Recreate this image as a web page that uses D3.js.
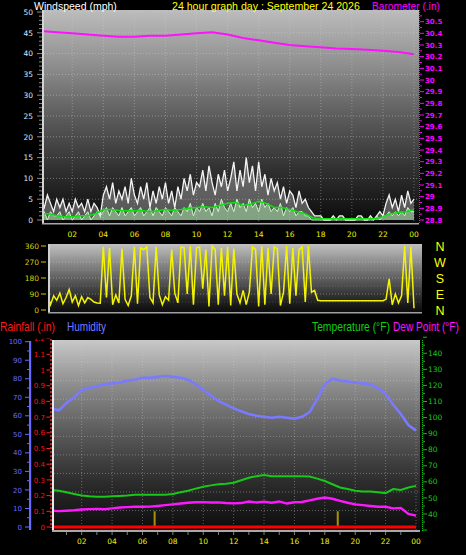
<!DOCTYPE html>
<html><head><meta charset="utf-8">
<script src="https://cdn.jsdelivr.net/npm/d3@7"></script>
<style>html,body{margin:0;padding:0;background:#000;overflow:hidden}svg{display:block}</style>
</head><body><svg id="c" width="466" height="555"></svg>
<script>
// ---------------- DATA ----------------
const hourTickValues = [2,4,6,8,10,12,14,16,18,20,22,24];
const hourTickLabels = ["02","04","06","08","10","12","14","16","18","20","22","00"];
const windTicks = [0,5,10,15,20,25,30,35,40,45,50];
const baroTicks = [28.8,28.9,29.0,29.1,29.2,29.3,29.4,29.5,29.6,29.7,29.8,29.9,30.0,30.1,30.2,30.3,30.4,30.5];
const dirTicks = [0,90,180,270,360];
const compassLabels = ["N","W","S","E","N"];
const compassAngles = [360,270,180,90,0];
const humTicks = [0,10,20,30,40,50,60,70,80,90,100];
const rainTicks = [0,0.1,0.2,0.3,0.4,0.5,0.6,0.7,0.8,0.9,1.0,1.1,1.2];
const tempTicks = [40,50,60,70,80,90,100,110,120,130,140];

// 12-minute samples (0.2 h), hours 0..24
const fineStep = 0.2;
const gustSpeed = [5,3,6,4,2,5,
 3,5,2,4,2, 5,3,4,2,5, 2,4,3,1,6, 8,5,9,4,7, 5,8,4,10,6,
 4,8,5,9,3, 7,4,8,5,9, 4,7,3,8,5, 10,7,11,6,9, 8,12,7,13,9,
 6,11,8,12,7, 10,14,7,12,8, 15,9,13,7,14, 8,11,6,10,7, 9,5,8,4,7,
 6,3,7,4,5, 3,2,1,1,1, 0,0,0,1,0, 1,1,0,0,0, 0,1,1,0,0,
 1,0,1,2,1, 4,6,3,5,2, 6,3,7,4,5];
const windAvg = [1,2,0,2,1,1,
 2,0,1,2,0, 1,2,0,1,2, 0,1,2,1,2, 3,1,3,2,1, 3,1,2,3,1,
 2,3,1,2,3, 1,3,2,1,3, 2,1,3,2,1, 3,2,4,1,3, 2,4,2,3,1,
 4,2,5,3,2, 4,2,5,3,4, 2,5,3,4,2, 5,3,4,2,3, 2,4,1,3,2,
 3,1,2,2,1, 1,0,0,0,0, 0,0,0,0,0, 0,0,0,0,0, 0,0,0,0,0,
 0,0,1,0,1, 1,2,1,2,1, 2,1,3,2,2];
const windDir = [120,40,90,30,80,55,
 95,35,70,115,45, 80,25,75,40,70, 60,45,40,38,355, 70,350,30,85,40, 345,60,25,80,355,
 35,350,340,355,70, 40,355,85,30,75, 55,340,95,40,355, 350,90,360,30,350, 355,120,340,20,360,
 340,30,350,80,355, 25,345,90,40,110, 30,100,355,340,20, 360,30,350,90,355, 345,25,100,360,35,
 350,80,340,355,45, 360,100,110,55,52, 52,52,52,52,52, 52,52,52,52,52, 52,52,52,52,52,
 52,52,52,52,52, 60,175,30,90,40, 80,360,40,355,10];

// half-hour samples
const halfStep = 0.5;
const windTrend = [1.5,1.5,1,0.8,0.8,1,1,1.5,2.5,2.5,2.3,2.2,2.2,2.3,2,2.2,2.5,2.3,2.5,2.8,3,3.2,3,3.5,4,4.2,3.5,3.8,4.5,4,3,3,2.5,2,1.5,0.5,0.3,0.3,0.3,0.3,0.3,0.3,0.3,0.3,0.8,1.5,1.8,2,2.5];
const humidity = [64,63,67,70,74,75,76,77,77.5,78,79,79.5,80.5,80.5,81,81.5,81,80.5,79.5,77,74,71,68,66,64,62.5,61,60,59.5,59,59.5,59,58.5,59.5,62,69,77,80,79,78.5,78,77.5,77,75,72,66,61,55,52];
const temperature = [55,54.5,53.5,52.5,51.5,51,50.8,50.8,51,51.2,51.5,52,52,52,52,52,52.5,53.5,54.5,55.8,57,57.8,58.5,58.8,59.5,61,62.5,63.5,64.2,63.5,63.5,63.5,63.5,63.5,63.3,62,60.5,58.5,56.5,55.5,54.5,54,54,53.5,53,55.5,55,56.5,57.5];
const dewPoint = [42,41.8,42,42.3,42.8,43,43.2,43,43.5,44,44.3,44.5,44.5,44.6,45,45.5,46,46.5,47,47.3,47.4,47.2,47.2,46.8,46.6,46.8,47.8,47.2,47.6,47,47.8,46.5,47.3,47.5,48.5,49.5,50.3,49.5,48.2,47,46,45.5,45,44.5,44.5,43.5,43.8,40,39];
const rainfall = [0,0,0,0,0,0,0,0,0,0,0,0,0,0,0,0,0,0,0,0,0,0,0,0,0];
// hourly barometer
const baroStep = 1;
const barometer = [30.42,30.41,30.40,30.39,30.38,30.37,30.37,30.38,30.38,30.39,30.40,30.41,30.39,30.36,30.34,30.32,30.30,30.29,30.28,30.27,30.265,30.26,30.25,30.24,30.22];
// rain events (hour, inches)
const rainEventHours = [6.8, 18.85];
const rainEventValues = [0.1, 0.1];

// ---------------- DRAW ----------------
const svg = d3.select("#c");
const defs = svg.append("defs");
function grad(id, stops){
  const g = defs.append("linearGradient").attr("id",id).attr("x1",0).attr("y1",0).attr("x2",0).attr("y2",1);
  stops.forEach(s=>g.append("stop").attr("offset",s[0]).attr("stop-color",s[1]));
}
grad("gTop",[[0,"#bcbcbc"],[0.25,"#909090"],[0.5,"#5c5c5c"],[0.75,"#303030"],[1,"#0a0a0a"]]);
grad("gMid",[[0,"#c0c0c0"],[0.5,"#606060"],[0.85,"#202020"],[1,"#0c0c0c"]]);
grad("gBot",[[0,"#c8c8c8"],[0.25,"#8a8a8a"],[0.5,"#585858"],[0.75,"#2c2c2c"],[1,"#0c0c0c"]]);
function clip(id,x,y,w,h){defs.append("clipPath").attr("id",id).append("rect").attr("x",x).attr("y",y).attr("width",w).attr("height",h);}

const fineHours = windDir.map((d,i)=>i*fineStep);
const halfHours = humidity.map((d,i)=>i*halfStep);

const font = "'Liberation Sans', Arial, sans-serif";
const tickFont = "'DejaVu Sans', Verdana, sans-serif";
function txt(g,x,y,s,color,size,anchor,ff){
  return g.append("text").attr("x",x).attr("y",y).text(s).attr("fill",color)
    .attr("font-size",size).attr("font-family",ff||font).attr("text-anchor",anchor||"start");
}
// condensed title: natural text squeezed horizontally to a target width
function ctxt(g,x,y,s,color,size,width){
  const t = g.append("text").attr("x",0).attr("y",0).text(s).attr("fill",color)
    .attr("font-size",size).attr("font-family",font);
  const w = t.node().getComputedTextLength();
  t.attr("transform",`translate(${x},${y}) scale(${width/w},1)`);
  return t;
}

// ===== TOP PANEL =====
const T = {x0:44, x1:419, y0:10, y1:223};
const xTop = d3.scaleLinear().domain([0,24]).range([41.2,414]);
const windY = d3.scaleLinear().domain([0,50]).range([220,12]);
const baroY = d3.scaleLinear().domain([28.8,30.6]).range([220,10]);
clip("cTop",T.x0,T.y0,T.x1-T.x0,T.y1-T.y0);
const topG = svg.append("g");
topG.append("rect").attr("x",T.x0).attr("y",T.y0).attr("width",T.x1-T.x0).attr("height",T.y1-T.y0).attr("fill","url(#gTop)");
const tg = topG.append("g").attr("clip-path","url(#cTop)");
windTicks.filter(v=>v>0).forEach(v=>tg.append("line").attr("x1",T.x0).attr("x2",T.x1).attr("y1",windY(v)).attr("y2",windY(v))
  .attr("stroke","#d0d0d0").attr("stroke-opacity",0.45).attr("stroke-dasharray","1,2"));
hourTickValues.forEach(v=>tg.append("line").attr("x1",xTop(v)).attr("x2",xTop(v)).attr("y1",T.y0).attr("y2",T.y1)
  .attr("stroke","#d0d0d0").attr("stroke-opacity",0.4).attr("stroke-dasharray","1,2"));
// gust
tg.append("path").datum(gustSpeed).attr("d",d3.area().x((d,i)=>xTop(fineHours[i])).y0(windY(0)).y1(d=>windY(d)))
  .attr("fill","#c0c0c0").attr("fill-opacity",0.4);
tg.append("path").datum(gustSpeed).attr("d",d3.line().x((d,i)=>xTop(fineHours[i])).y(d=>windY(d)))
  .attr("fill","none").attr("stroke","#f4f4f4").attr("stroke-width",1.3);
// average wind
tg.append("path").datum(windAvg).attr("d",d3.area().x((d,i)=>xTop(fineHours[i])).y0(windY(0)).y1(d=>windY(d)))
  .attr("fill","#b8ffb8").attr("fill-opacity",0.45);
tg.append("path").datum(windAvg).attr("d",d3.line().x((d,i)=>xTop(fineHours[i])).y(d=>windY(d)))
  .attr("fill","none").attr("stroke","#c8f8c8").attr("stroke-width",1);
tg.append("path").datum(windTrend).attr("d",d3.line().x((d,i)=>xTop(halfHours[i])).y(d=>windY(d)))
  .attr("fill","none").attr("stroke","#10e010").attr("stroke-width",1.5);
// barometer
tg.append("path").datum(barometer).attr("d",d3.line().x((d,i)=>xTop(i*baroStep)).y(d=>baroY(d)))
  .attr("fill","none").attr("stroke","#ff10ff").attr("stroke-width",2);
// borders
topG.append("rect").attr("x",42).attr("y",T.y0).attr("width",2).attr("height",T.y1-T.y0+1).attr("fill","#d4d4d4");
topG.append("rect").attr("x",42).attr("y",T.y1).attr("width",T.x1-42).attr("height",1.5).attr("fill","#a8a8a8");
// left axis
d3.range(0,51,1).forEach(v=>topG.append("line").attr("x1",v%5===0?37:39).attr("x2",42).attr("y1",windY(v)).attr("y2",windY(v))
  .attr("stroke","#8a8a8a").attr("stroke-width",1));
windTicks.forEach(v=>txt(topG,33,windY(v)+2.7,String(v),"#d8e8ff",7.5,"end",tickFont));
// right axis
topG.append("line").attr("x1",419.5).attr("x2",419.5).attr("y1",T.y0).attr("y2",T.y1+1).attr("stroke","#ff00ff").attr("stroke-dasharray","1,1");
baroTicks.forEach(v=>{
  topG.append("line").attr("x1",420).attr("x2",424).attr("y1",baroY(v)).attr("y2",baroY(v)).attr("stroke","#ff00ff");
  topG.append("line").attr("x1",420).attr("x2",422).attr("y1",baroY(v+0.05)).attr("y2",baroY(v+0.05)).attr("stroke","#ff00ff");
  txt(topG,425,baroY(v)+2.6,String(+v.toFixed(1)),"#ff00ff",7,"start",tickFont).attr("font-weight","bold");
});
// x labels
hourTickValues.forEach((v,i)=>txt(topG,xTop(v),237,hourTickLabels[i],"#f0f000",7.5,"middle",tickFont));
// header
ctxt(svg,34,9.5,"Windspeed (mph)","#ffffff",11.5,83);
ctxt(svg,172,9.5,"24 hour graph day : September 24 2026","#ffff00",11.5,188);
ctxt(svg,372,9.5,"Barometer (.in)","#ff00ff",11.5,68);

// ===== MIDDLE PANEL =====
const M = {x0:50, x1:422, y0:244, y1:312};
const dirY = d3.scaleLinear().domain([0,360]).range([310,246]);
clip("cMid",M.x0,M.y0,M.x1-M.x0,M.y1-M.y0);
const midG = svg.append("g");
midG.append("rect").attr("x",M.x0).attr("y",M.y0).attr("width",M.x1-M.x0).attr("height",M.y1-M.y0).attr("fill","url(#gMid)");
const mg = midG.append("g").attr("clip-path","url(#cMid)");
[45,90,135,180,225,270,315].forEach(v=>mg.append("line").attr("x1",M.x0).attr("x2",M.x1).attr("y1",dirY(v)).attr("y2",dirY(v))
  .attr("stroke","#d0d0d0").attr("stroke-opacity",v%90===0?0.45:0.2).attr("stroke-dasharray","1,2"));
mg.append("path").datum(windDir).attr("d",d3.line().x((d,i)=>xTop(fineHours[i])).y(d=>dirY(d)))
  .attr("fill","none").attr("stroke","#f4f400").attr("stroke-width",1.5);
midG.append("rect").attr("x",48).attr("y",M.y0).attr("width",2).attr("height",M.y1-M.y0+1).attr("fill","#d0d0d0");
midG.append("rect").attr("x",48).attr("y",M.y1).attr("width",M.x1-48).attr("height",1.5).attr("fill","#a0a0a0");
dirTicks.forEach(v=>{
  midG.append("line").attr("x1",41).attr("x2",46).attr("y1",dirY(v)).attr("y2",dirY(v)).attr("stroke","#c8c800");
  txt(midG,39,dirY(v)+2.7,String(v),"#d0d000",7.5,"end",tickFont);
});
compassLabels.forEach((s,i)=>txt(midG,440,dirY(compassAngles[i])+4.5,s,"#ffff00",12.5,"middle"));

// ===== BOTTOM PANEL =====
const B = {x0:54, x1:420, y0:340, y1:530};
const xBot = d3.scaleLinear().domain([0,24]).range([51.3,416]);
const humY = d3.scaleLinear().domain([0,100]).range([527,341.7]);
const rainY = d3.scaleLinear().domain([0,1.2]).range([527,338.6]);
const tempY = d3.scaleLinear().domain([30,150]).range([530.07,337.2]);
clip("cBot",B.x0,B.y0,B.x1-B.x0,B.y1-B.y0);
clip("cLbl",0,338.5,466,220);
const botG = svg.append("g");
botG.append("rect").attr("x",B.x0).attr("y",B.y0).attr("width",B.x1-B.x0).attr("height",B.y1-B.y0).attr("fill","url(#gBot)");
const bg = botG.append("g").attr("clip-path","url(#cBot)");
humTicks.filter(v=>v>0).forEach(v=>bg.append("line").attr("x1",B.x0).attr("x2",B.x1).attr("y1",humY(v)+2).attr("y2",humY(v)+2)
  .attr("stroke","#d0d0d0").attr("stroke-opacity",0.4).attr("stroke-dasharray","1,2"));
hourTickValues.forEach(v=>bg.append("line").attr("x1",xBot(v)).attr("x2",xBot(v)).attr("y1",B.y0).attr("y2",B.y1)
  .attr("stroke","#d0d0d0").attr("stroke-opacity",0.4).attr("stroke-dasharray","1,2"));
// rain events
rainEventHours.forEach((h,i)=>bg.append("line").attr("x1",xBot(h)).attr("x2",xBot(h)).attr("y1",rainY(0)).attr("y2",rainY(rainEventValues[i]))
  .attr("stroke","#a89400").attr("stroke-width",2));
// series
bg.append("path").datum(humidity).attr("d",d3.line().x((d,i)=>xBot(halfHours[i])).y(d=>humY(d)))
  .attr("fill","none").attr("stroke","#7a7aff").attr("stroke-width",2.6);
bg.append("path").datum(temperature).attr("d",d3.line().x((d,i)=>xBot(halfHours[i])).y(d=>tempY(d)))
  .attr("fill","none").attr("stroke","#18c818").attr("stroke-width",2);
bg.append("path").datum(dewPoint).attr("d",d3.line().x((d,i)=>xBot(halfHours[i])).y(d=>tempY(d)))
  .attr("fill","none").attr("stroke","#ff18ff").attr("stroke-width",2.4);
bg.append("path").datum(rainfall).attr("d",d3.line().x((d,i)=>xBot(i)).y(d=>rainY(d)))
  .attr("fill","none").attr("stroke","#ff0000").attr("stroke-width",3);
// borders
botG.append("rect").attr("x",52).attr("y",B.y0).attr("width",2).attr("height",B.y1-B.y0+2).attr("fill","#e8e8e8");
botG.append("rect").attr("x",52).attr("y",B.y1).attr("width",B.x1-52).attr("height",2).attr("fill","#a8a8a8");
d3.range(1,24,1).forEach(h=>botG.append("line").attr("x1",xBot(h)).attr("x2",xBot(h)).attr("y1",532).attr("y2",535).attr("stroke","#808080"));
// humidity axis
botG.append("rect").attr("x",29).attr("y",341).attr("width",2.2).attr("height",189).attr("fill","#6a6aff");
d3.range(0,101,5).forEach(v=>botG.append("line").attr("x1",v%10===0?25:27).attr("x2",29).attr("y1",humY(v)).attr("y2",humY(v)).attr("stroke","#6a6aff"));
const lbl = botG.append("g").attr("clip-path","url(#cLbl)");
humTicks.forEach(v=>txt(lbl,22,humY(v)+2.6,String(v),"#6a6aff",7,"end",tickFont));
// rainfall axis
botG.append("line").attr("x1",51).attr("x2",51).attr("y1",339).attr("y2",528).attr("stroke","#ff2020").attr("stroke-width",1.5).attr("stroke-dasharray","2,2");
rainTicks.forEach(v=>{
  lbl.append("line").attr("x1",46.5).attr("x2",50).attr("y1",rainY(v)).attr("y2",rainY(v)).attr("stroke","#ff2020");
  txt(lbl,45,rainY(v)+2.6,String(+v.toFixed(1)),"#ff1010",7,"end",tickFont);
});
// temperature axis
botG.append("line").attr("x1",422.5).attr("x2",422.5).attr("y1",B.y0).attr("y2",B.y1+1).attr("stroke","#10c010").attr("stroke-dasharray","1,1");
d3.range(30,151,5).forEach(v=>botG.append("line").attr("x1",423).attr("x2",v%10===0?427:425).attr("y1",tempY(v)).attr("y2",tempY(v)).attr("stroke","#10c010"));
tempTicks.forEach(v=>txt(botG,428,tempY(v)+2.6,String(v),"#18c818",7.5,"start",tickFont));
// x labels
hourTickValues.forEach((v,i)=>txt(botG,xBot(v),544,hourTickLabels[i],"#f0f000",7.5,"middle",tickFont));
// titles
ctxt(svg,0,331,"Rainfall (.in)","#ff1a1a",12,55);
ctxt(svg,67,331,"Humidity","#7a7aff",12,39);
ctxt(svg,312,331,"Temperature (°F)","#10d010",12,78);
ctxt(svg,393,331,"Dew Point (°F)","#ff10ff",12,66);
</script></body></html>
